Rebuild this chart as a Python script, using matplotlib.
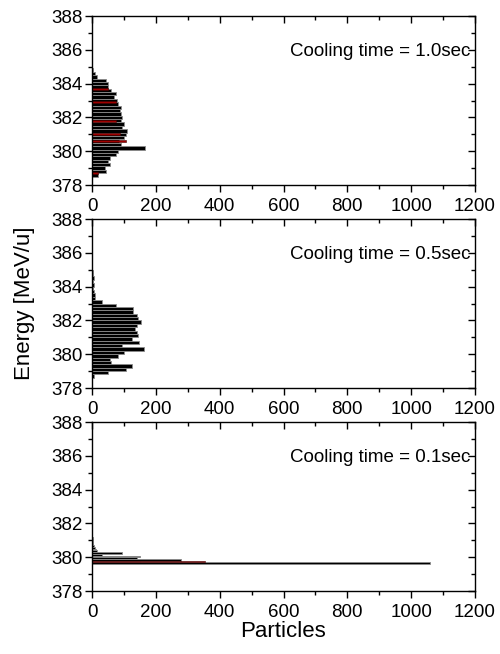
import matplotlib

matplotlib.use("Agg")
import matplotlib.pyplot as plt  # noqa: E402
from matplotlib.ticker import MultipleLocator  # noqa: E402

plt.rcParams["font.family"] = ["Liberation Sans", "DejaVu Sans"]

# energy bin centres [MeV/u] and particle counts for each cooling time
bin_width = 0.2
energy_10 = [378.6, 378.8, 379.0, 379.2, 379.4, 379.6, 379.8, 380.0, 380.2, 380.4,
             380.6, 380.8, 381.0, 381.2, 381.4, 381.6, 381.8, 382.0, 382.2, 382.4,
             382.6, 382.8, 383.0, 383.2, 383.4, 383.6, 383.8, 384.0, 384.2, 384.4,
             384.6, 384.8]
counts_10 = [20, 45, 40, 55, 50, 55, 75, 80, 165, 90,
             85, 100, 105, 110, 95, 100, 90, 95, 92, 88,
             90, 80, 77, 70, 75, 60, 50, 50, 45, 15,
             8, 4]
red_energy_10 = [378.7, 380.6, 381.0, 381.8, 382.9, 383.7]
red_counts_10 = [20, 105, 87, 76, 76, 50]

energy_05 = [378.7, 378.9, 379.1, 379.3, 379.5, 379.7, 379.9, 380.1, 380.3, 380.5,
             380.7, 380.9, 381.1, 381.3, 381.5, 381.7, 381.9, 382.1, 382.3, 382.5,
             382.7, 382.9, 383.1, 383.3, 383.5, 383.7, 383.9, 384.1, 384.3, 384.5,
             384.7, 384.9]
counts_05 = [5, 50, 105, 125, 60, 55, 80, 100, 162, 95,
             148, 125, 145, 140, 135, 140, 155, 145, 140, 130,
             128, 75, 30, 10, 8, 5, 4, 6, 3, 5,
             3, 2]

bin_width_01 = 0.1
energy_01 = [379.65, 379.75, 379.85, 379.95, 380.05, 380.15, 380.25, 380.35, 380.45,
             380.55, 380.65, 380.75, 380.85, 380.95, 381.05, 381.15, 381.25, 381.35]
counts_01 = [1060, 150, 280, 140, 150, 30, 95, 15, 12, 8, 6, 4, 3, 3, 2, 2, 1, 1]
red_energy_01 = [379.75]
red_counts_01 = [355]

labels = ["Cooling time = 1.0sec", "Cooling time = 0.5sec", "Cooling time = 0.1sec"]

fig = plt.figure(figsize=(5.0, 6.54), dpi=100)
rects = [[0.184, 0.7171, 0.766, 0.2584],
         [0.184, 0.4067, 0.766, 0.2584],
         [0.184, 0.0963, 0.766, 0.2584]]

panels = [
    (energy_10, counts_10, bin_width, red_energy_10, red_counts_10, 0.12),
    (energy_05, counts_05, bin_width, [], [], bin_width),
    (energy_01, counts_01, bin_width_01, red_energy_01, red_counts_01, 0.09),
]

for rect, (en, ct, bw, ren, rct, rbw), label in zip(rects, panels, labels):
    ax = fig.add_axes(rect)
    ax.barh(en, ct, height=bw, color="black", edgecolor="0.55", linewidth=0.6)
    if ren:
        ax.barh(ren, rct, height=rbw, color="#a00000", edgecolor="#400000",
                linewidth=0.4)
    ax.set_xlim(0, 1200)
    ax.set_ylim(378, 388)
    ax.xaxis.set_major_locator(MultipleLocator(200))
    ax.xaxis.set_minor_locator(MultipleLocator(100))
    ax.yaxis.set_major_locator(MultipleLocator(2))
    ax.yaxis.set_minor_locator(MultipleLocator(1))
    ax.tick_params(axis="x", which="both", direction="out", top=True, labelsize=13.5,
                   pad=4)
    ax.tick_params(axis="y", which="both", direction="out", right=True, labelsize=13.5,
                   pad=2)
    ax.tick_params(which="major", length=5, width=1)
    ax.tick_params(which="minor", length=3, width=1)
    # top and right ticks point inwards
    for t in ax.xaxis.get_ticklines(minor=False)[1::2] + ax.xaxis.get_ticklines(minor=True)[1::2]:
        t.set_marker(3)
    for t in ax.yaxis.get_ticklines(minor=False)[1::2] + ax.yaxis.get_ticklines(minor=True)[1::2]:
        t.set_marker(0)
    for sp in ax.spines.values():
        sp.set_linewidth(1.0)
    ax.text(1185, 385.9, label, ha="right", va="center", fontsize=13.5)

fig.text(0.05, 0.537, "Energy [MeV/u]", rotation=90, ha="center", va="center",
         fontsize=16)
fig.text(0.567, 0.034, "Particles", ha="center", va="center", fontsize=16)

fig.savefig("out.png", dpi=100)
plt.close(fig)
